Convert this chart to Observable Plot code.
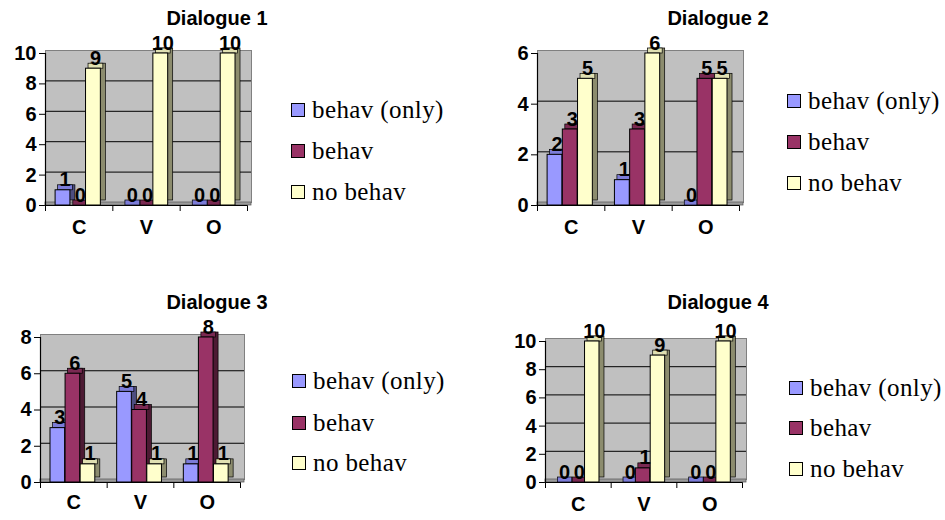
<!DOCTYPE html>
<html><head><meta charset="utf-8">
<script src="https://cdn.jsdelivr.net/npm/d3@7"></script>
<script src="https://cdn.jsdelivr.net/npm/@observablehq/plot@0.6"></script>
<style>
body{margin:0;background:#fff;}
#root{position:relative;width:945px;height:520px;overflow:hidden;font-family:'Liberation Sans',Arial,sans-serif;}
.chart{position:absolute;}
.title{position:absolute;font-family:'Liberation Sans',Arial,sans-serif;font-weight:bold;font-size:20px;white-space:nowrap;transform:translate(-50%,-50%);color:#000;}
.leg{position:absolute;display:flex;align-items:center;height:28px;font-family:'Liberation Serif';font-size:25px;letter-spacing:0.4px;white-space:nowrap;color:#000;}
.lt{font-family:'Liberation Serif';}
.sw{width:14px;height:14px;box-sizing:border-box;border:1.5px solid #000;margin-right:7px;flex:none;}
</style></head><body><div id="root"></div>
<script>
// ---- data ----
const categories = ["C", "V", "O"];
const seriesNames = ["behav (only)", "behav", "no behav"];
const titles = ["Dialogue 1", "Dialogue 2", "Dialogue 3", "Dialogue 4"];

const d1BehavOnly = [1, 0, 0];
const d1Behav     = [0, 0, 0];
const d1NoBehav   = [9, 10, 10];

const d2BehavOnly = [2, 1, 0];
const d2Behav     = [3, 3, 5];
const d2NoBehav   = [5, 6, 5];

const d3BehavOnly = [3, 5, 1];
const d3Behav     = [6, 4, 8];
const d3NoBehav   = [1, 1, 1];

const d4BehavOnly = [0, 0, 0];
const d4Behav     = [0, 1, 0];
const d4NoBehav   = [10, 9, 10];

const yTicks1 = [0, 2, 4, 6, 8, 10];
const yTicks2 = [0, 2, 4, 6];
const yTicks3 = [0, 2, 4, 6, 8];
const yTicks4 = [0, 2, 4, 6, 8, 10];

// ---- styles ----
const frontColors = ["#9999FF", "#993366", "#FFFFCC"];
const topColors   = ["#7C7CD8", "#7A2952", "#E0E0B2"];
const sideColors  = ["#4D4D80", "#4D1A33", "#8C8C6E"];

const layouts = [
  {left: 0,   top: 0,   width: 290, height: 260, mL: 45, mR: 43, mT: 53, mB: 55, tx: 217, ty: 18,  lx: 291, rows: [110, 151, 192], catDy: 28},
  {left: 490, top: 0,   width: 290, height: 260, mL: 47, mR: 41, mT: 53, mB: 55, tx: 718, ty: 18,  lx: 787, rows: [101, 142, 183], catDy: 28},
  {left: 0,   top: 270, width: 290, height: 250, mL: 40, mR: 50, mT: 67, mB: 38, tx: 217, ty: 302, lx: 292, rows: [381, 423, 463], catDy: 26},
  {left: 490, top: 270, width: 290, height: 250, mL: 55, mR: 38, mT: 71, mB: 38, tx: 718, ty: 302, lx: 789, rows: [388, 428, 469], catDy: 28}
];

const dialogues = [
  [[d1BehavOnly, d1Behav, d1NoBehav], yTicks1],
  [[d2BehavOnly, d2Behav, d2NoBehav], yTicks2],
  [[d3BehavOnly, d3Behav, d3NoBehav], yTicks3],
  [[d4BehavOnly, d4Behav, d4NoBehav], yTicks4]
];

const root = document.getElementById("root");
const FS = 20;
const SANS = "Liberation Sans";

function makeChart(values, ticks, L) {
  const rows = [];
  categories.forEach((c, i) => values.forEach((vals, j) => rows.push({cat: c, i, j, value: vals[i]})));
  const X1 = d => d.i + 0.15 + d.j * 0.226;
  const X2 = d => X1(d) + 0.22;
  const max = ticks[ticks.length - 1];
  const marks = [
    Plot.frame({fill: "#C0C0C0", stroke: "#808080", insetTop: -3, insetRight: -4, insetBottom: 3}),
    Plot.rect([0], {x1: 0, x2: 3, y1: 0, y2: 0, insetTop: -3, insetRight: -4, fill: "#9A9A9A", stroke: "#606060", strokeWidth: 0.8}),
    Plot.ruleY(ticks.filter(t => t > 0 && t < max), {dy: -3, insetRight: -4, stroke: "#000", strokeWidth: 1}),
    Plot.ruleX([0], {stroke: "#000", strokeWidth: 1.2}),
    Plot.ruleY([0], {stroke: "#000", strokeWidth: 1.2})
  ];
  seriesNames.forEach((s, j) => {
    const r = rows.filter(d => d.j === j);
    const pos = r.filter(d => d.value > 0);
    marks.push(
      Plot.rect(pos, {x1: X1, x2: X2, y1: 0, y2: "value", dx: 5, dy: -5, fill: sideColors[j], stroke: "#000", strokeWidth: 0.7}),
      Plot.rect(r, {x1: X1, x2: X2, y1: "value", y2: "value", insetTop: -5, dx: 2.5, fill: topColors[j], stroke: "#000", strokeWidth: 0.7}),
      Plot.rect(pos, {x1: X1, x2: X2, y1: 0, y2: "value", fill: frontColors[j], stroke: "#000", strokeWidth: 1})
    );
  });
  marks.push(Plot.text(rows, {x: d => X1(d) + 0.11, y: "value", text: d => String(d.value), dy: -4, dx: 2, lineAnchor: "bottom", fontWeight: "bold", fontSize: FS, fontFamily: SANS, fill: "#000"}));
  marks.push(Plot.text(categories, {x: (d, i) => i + 0.5, frameAnchor: "bottom", dy: L.catDy, text: d => d, fontWeight: "bold", fontSize: FS, fontFamily: SANS, fill: "#000"}));

  const svg = Plot.plot({
    width: L.width,
    height: L.height,
    marginLeft: L.mL, marginRight: L.mR, marginTop: L.mT, marginBottom: L.mB,
    x: {type: "linear", domain: [0, 3], ticks: [0, 1, 2, 3], tickFormat: () => "", tickSize: 6, label: null},
    y: {domain: [0, max], ticks: ticks, tickSize: 6, tickPadding: 3, tickFormat: d3.format("d"), label: null},
    style: {fontFamily: SANS, fontSize: FS + "px", fontWeight: "bold", background: "transparent", color: "#000", overflow: "visible"},
    marks
  });
  const div = document.createElement("div");
  div.className = "chart";
  div.style.left = L.left + "px";
  div.style.top = L.top + "px";
  div.style.width = L.width + "px";
  div.style.height = L.height + "px";
  div.appendChild(svg);
  root.appendChild(div);
}

dialogues.forEach(([values, ticks], k) => makeChart(values, ticks, layouts[k]));

layouts.forEach((L, k) => {
  const t = document.createElement("div");
  t.className = "title";
  t.style.left = L.tx + "px";
  t.style.top = L.ty + "px";
  t.textContent = titles[k];
  root.appendChild(t);
  seriesNames.forEach((s, j) => {
    const row = document.createElement("div");
    row.className = "leg";
    row.style.left = L.lx + "px";
    row.style.top = (L.rows[j] - 14) + "px";
    const sw = document.createElement("span");
    sw.className = "sw";
    sw.style.background = frontColors[j];
    const tx = document.createElement("span");
    tx.className = "lt";
    tx.textContent = s;
    row.appendChild(sw);
    row.appendChild(tx);
    root.appendChild(row);
  });
});
</script>
</body></html>
